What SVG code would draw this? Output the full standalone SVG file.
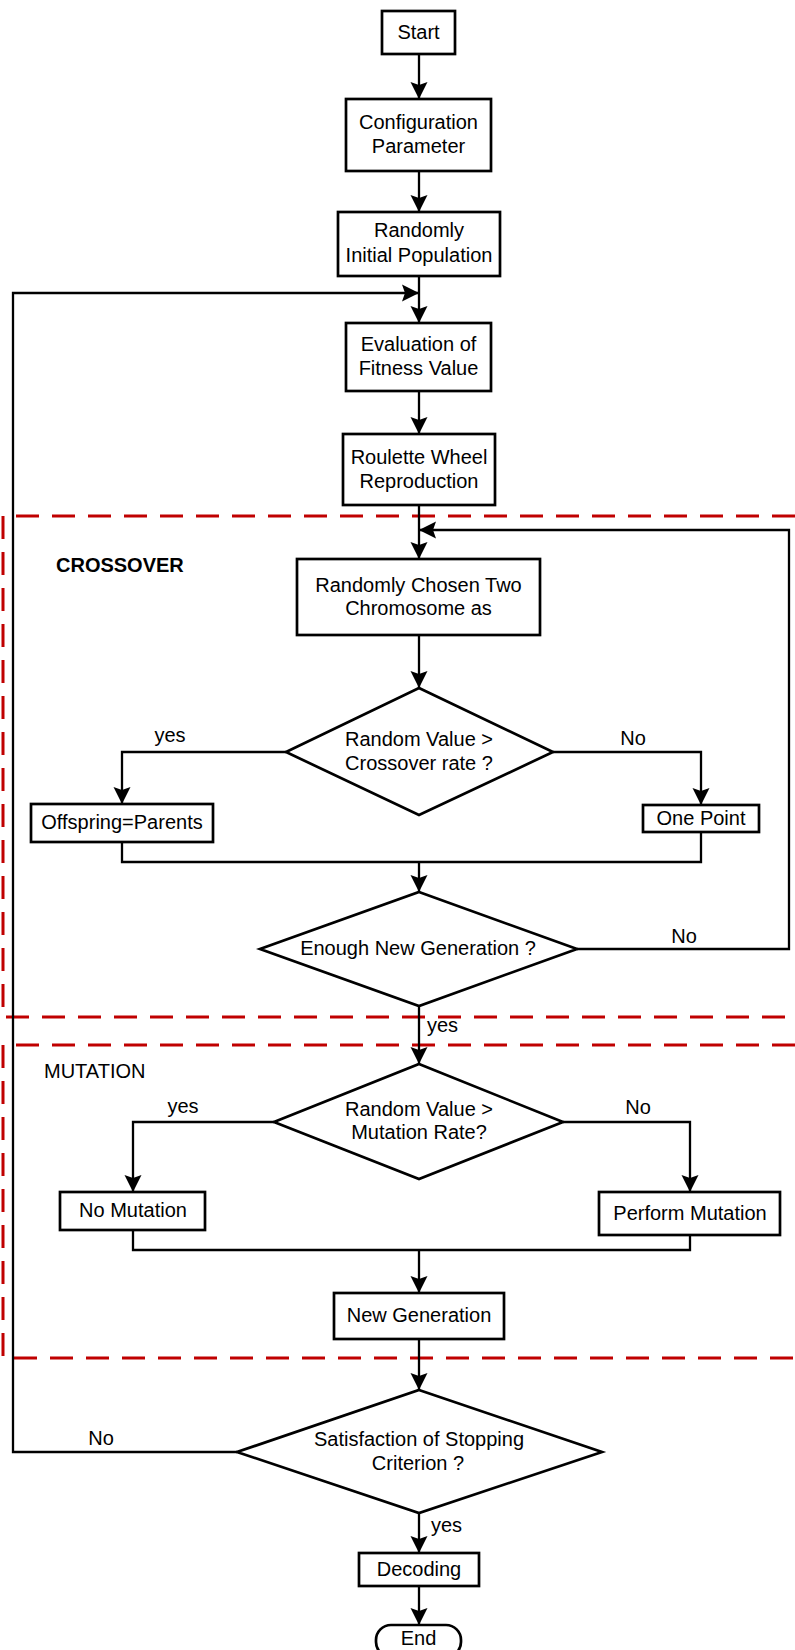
<svg xmlns="http://www.w3.org/2000/svg" width="795" height="1650" viewBox="0 0 795 1650">
<style>
.box{fill:#fff;stroke:#000;stroke-width:2.7}
.dia{fill:#fff;stroke:#000;stroke-width:2.7;stroke-linejoin:miter}
.con{fill:none;stroke:#000;stroke-width:2.3}
.arr{marker-end:url(#ah)}
.reg{fill:none;stroke:#C00000;stroke-width:3;stroke-dasharray:23 13}
text{font-family:"Liberation Sans",Arial,sans-serif;font-size:20px;fill:#000}
.c{text-anchor:middle}
.b{font-weight:bold}
</style>
<defs>
<marker id="ah" markerWidth="18" markerHeight="18" viewBox="-18 -9 18 18" refX="0" refY="0" orient="auto" markerUnits="userSpaceOnUse">
<path d="M0,0 L-17,-8.5 L-14,0 L-17,8.5 Z" fill="#000"/>
</marker>
</defs>
<rect width="795" height="1650" fill="#fff"/>

<g id="regions">
<path class="reg" d="M795,516 H3 V1017 H795"/>
<path class="reg" d="M795,1045 H3 V1358 H795"/>
<text id="lbl-crossover" class="b" x="56" y="572">CROSSOVER</text>
<text id="lbl-mutation" x="44" y="1078">MUTATION</text>
</g>

<g id="connectors">
<path class="con arr" d="M419,54 V99"/>
<path class="con arr" d="M419,171 V212"/>
<path class="con arr" d="M419,276 V323"/>
<path class="con arr" d="M237,1452 H13 V293 H419"/>
<path class="con arr" d="M419,391 V434"/>
<path class="con arr" d="M419,505 V559"/>
<path class="con arr" d="M577,949 H789 V530 H419"/>
<path class="con arr" d="M419,635 V688"/>
<path class="con arr" d="M286,752 H122 V804"/>
<path class="con arr" d="M553,752 H701 V805"/>
<path class="con" d="M122,842 V862 H701 V832"/>
<path class="con arr" d="M419,862 V892"/>
<path class="con arr" d="M419,1006 V1064"/>
<path class="con arr" d="M274,1122 H133 V1192"/>
<path class="con arr" d="M563,1122 H690 V1192"/>
<path class="con" d="M133,1230 V1250 H690 V1235"/>
<path class="con arr" d="M419,1250 V1293"/>
<path class="con arr" d="M419,1339 V1390"/>
<path class="con arr" d="M419,1513 V1553"/>
<path class="con arr" d="M419,1586 V1625"/>
<text x="170" y="742" class="c">yes</text>
<text x="633" y="745" class="c">No</text>
<text x="684" y="943" class="c">No</text>
<text x="427" y="1032">yes</text>
<text x="183" y="1113" class="c">yes</text>
<text x="638" y="1114" class="c">No</text>
<text x="101" y="1445" class="c">No</text>
<text x="431" y="1532">yes</text>
</g>

<g id="start">
<rect class="box" x="382" y="11" width="73" height="43"/>
<text x="418.5" y="39" class="c">Start</text>
</g>
<g id="config">
<rect class="box" x="346" y="99" width="145" height="72"/>
<text x="418.5" y="129" class="c">Configuration</text>
<text x="418.5" y="153" class="c">Parameter</text>
</g>
<g id="init-pop">
<rect class="box" x="338" y="212" width="162" height="64"/>
<text x="419" y="237" class="c">Randomly</text>
<text x="419" y="262" class="c">Initial Population</text>
</g>
<g id="evaluation">
<rect class="box" x="346" y="323" width="145" height="68"/>
<text x="418.5" y="351" class="c">Evaluation of</text>
<text x="418.5" y="375" class="c">Fitness Value</text>
</g>
<g id="roulette">
<rect class="box" x="343" y="434" width="152" height="71"/>
<text x="419" y="464" class="c">Roulette Wheel</text>
<text x="419" y="488" class="c">Reproduction</text>
</g>
<g id="choose">
<rect class="box" x="297" y="559" width="243" height="76"/>
<text x="418.5" y="592" class="c">Randomly Chosen Two</text>
<text x="418.5" y="615" class="c">Chromosome as</text>
</g>
<g id="crossover-rate">
<polygon class="dia" points="419,688 553,752 419,815 286,752"/>
<text x="419" y="746" class="c">Random Value &gt;</text>
<text x="419" y="770" class="c">Crossover rate ?</text>
</g>
<g id="offspring">
<rect class="box" x="31" y="804" width="182" height="38"/>
<text x="122" y="829" class="c">Offspring=Parents</text>
</g>
<g id="one-point">
<rect class="box" x="643" y="805" width="116" height="27"/>
<text x="701" y="825" class="c">One Point</text>
</g>
<g id="enough">
<polygon class="dia" points="419,892 577,949 419,1006 260,949"/>
<text x="418" y="955" class="c">Enough New Generation ?</text>
</g>
<g id="mutation-rate">
<polygon class="dia" points="419,1064 563,1122 419,1179 274,1122"/>
<text x="419" y="1116" class="c">Random Value &gt;</text>
<text x="419" y="1139" class="c">Mutation Rate?</text>
</g>
<g id="no-mutation">
<rect class="box" x="60" y="1192" width="145" height="38"/>
<text x="133" y="1217" class="c">No Mutation</text>
</g>
<g id="perform-mutation">
<rect class="box" x="599" y="1192" width="181" height="43"/>
<text x="690" y="1220" class="c">Perform Mutation</text>
</g>
<g id="new-generation">
<rect class="box" x="334" y="1293" width="170" height="46"/>
<text x="419" y="1322" class="c">New Generation</text>
</g>
<g id="stopping">
<polygon class="dia" points="419,1390 602,1452 419,1513 237,1452"/>
<text x="419" y="1446" class="c">Satisfaction of Stopping</text>
<text x="418" y="1470" class="c">Criterion ?</text>
</g>
<g id="decoding">
<rect class="box" x="359" y="1553" width="120" height="33"/>
<text x="419" y="1576" class="c">Decoding</text>
</g>
<g id="end">
<rect class="box" x="376" y="1625" width="85" height="32" rx="15" ry="15"/>
<text x="418.5" y="1645" class="c">End</text>
</g>
</svg>
